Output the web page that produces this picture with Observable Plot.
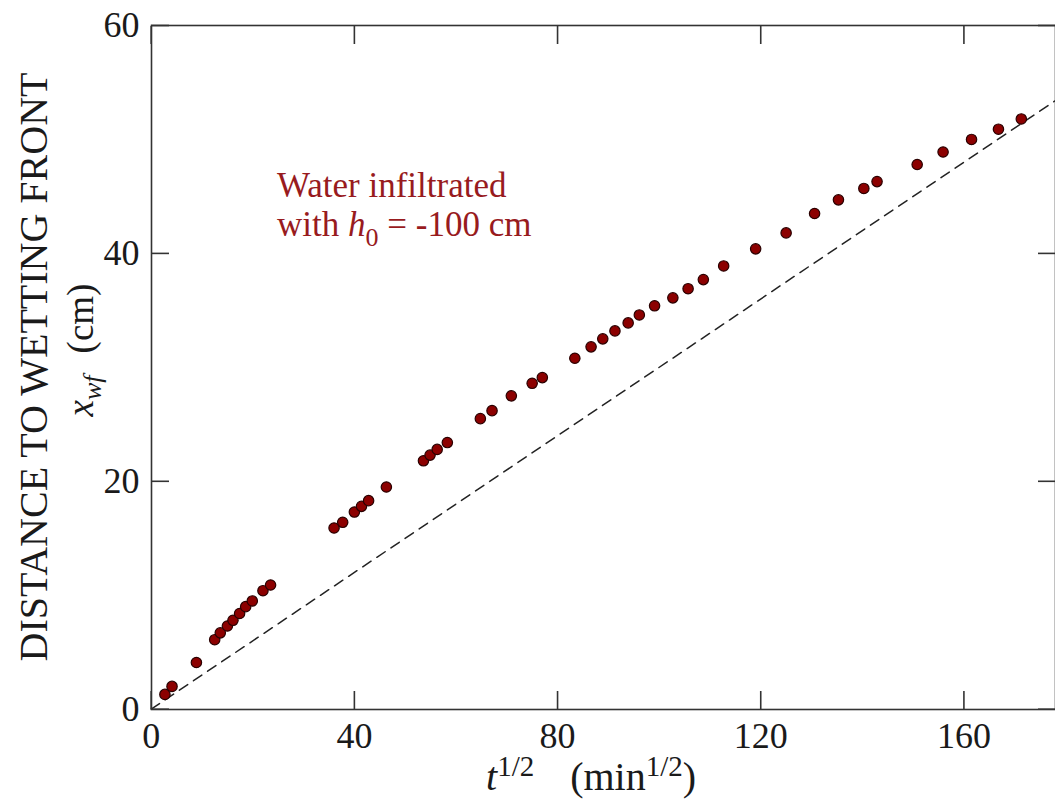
<!DOCTYPE html>
<html>
<head>
<meta charset="utf-8">
<script src="https://cdn.jsdelivr.net/npm/d3@7"></script>
<script src="https://cdn.jsdelivr.net/npm/@observablehq/plot@0.6"></script>
<style>
  html, body { margin: 0; padding: 0; background: #fff; overflow: hidden; }
  #chart svg { display: block; }
</style>
</head>
<body>
<div id="chart"></div>
<script>
// ---- data ----
const sqrtTime = [2.7, 4.1, 8.9, 12.5, 13.6, 15.0, 16.1, 17.4, 18.6, 19.9, 22.0, 23.5,
  36.0, 37.7, 40.0, 41.4, 42.8, 46.3, 53.6, 54.9, 56.3, 58.3,
  64.8, 67.1, 70.9, 75.0, 77.0, 83.4, 86.6, 88.9, 91.3, 93.9, 96.1, 99.1,
  102.7, 105.7, 108.7, 112.7, 119.0, 125.0, 130.6, 135.3, 140.3, 142.9,
  150.8, 155.9, 161.5, 166.8, 171.3];
const wettingFront = [1.3, 2.0, 4.1, 6.1, 6.7, 7.3, 7.8, 8.4, 9.0, 9.5, 10.4, 10.9,
  15.9, 16.4, 17.3, 17.8, 18.3, 19.5, 21.8, 22.3, 22.8, 23.4,
  25.5, 26.2, 27.5, 28.6, 29.1, 30.8, 31.8, 32.5, 33.2, 33.9, 34.6, 35.4,
  36.1, 36.9, 37.7, 38.9, 40.4, 41.8, 43.5, 44.7, 45.7, 46.3,
  47.8, 48.9, 50.0, 50.9, 51.8];
const refLineX = [0, 180];
const refLineY = [0, 54];
const xTicks = [0, 40, 80, 120, 160];
const yTicks = [0, 20, 40, 60];

const annotationLine1 = "Water infiltrated";
const yTitle1 = "DISTANCE TO WETTING FRONT";

// ---- build ----
const points = sqrtTime.map((x, i) => ({x, y: wettingFront[i]}));
const refLine = refLineX.map((x, i) => ({x, y: refLineY[i]}));
const serif = "'Liberation Serif', 'Times New Roman', serif";
const axisColor = "#333";

const plot = Plot.plot({
  width: 1055,
  height: 806,
  marginLeft: 151,
  marginRight: 0,
  marginTop: 25,
  marginBottom: 97,
  x: {domain: [0, 180], range: [150.7, 1065]},
  y: {domain: [0, 60], range: [708.7, 25]},
  style: {fontFamily: serif, fontSize: "36px", color: "#1a1a1a", background: "#fff"},
  marks: [
    Plot.line(refLine, {x: "x", y: "y", stroke: "#222", strokeWidth: 1.5, strokeDasharray: "10,7"}),
    Plot.dot(points, {x: "x", y: "y", r: 5.2, fill: "#8c0000", stroke: "#2a0000", strokeWidth: 1.2}),
    Plot.frame({stroke: axisColor, strokeWidth: 1.6}),
    Plot.axisX(xTicks, {anchor: "bottom", tickSize: -18, tickFormat: () => "", stroke: axisColor, strokeWidth: 1.6, label: null}),
    Plot.axisX(xTicks, {anchor: "top", tickSize: -18, tickFormat: () => "", stroke: axisColor, strokeWidth: 1.6, label: null}),
    Plot.axisY(yTicks, {anchor: "left", tickSize: -18, tickFormat: () => "", stroke: axisColor, strokeWidth: 1.6, label: null}),
    Plot.axisY(yTicks, {anchor: "right", tickSize: -18, tickFormat: () => "", stroke: axisColor, strokeWidth: 1.6, label: null}),
    Plot.axisX(xTicks, {anchor: "bottom", tickSize: 0, tickPadding: 13, fontSize: 36, label: null}),
    Plot.axisY(yTicks, {anchor: "left", tickSize: 0, tickPadding: 12, fontSize: 36, label: null})
  ]
});

document.getElementById("chart").appendChild(plot);

// ---- rich text (superscripts / subscripts / italics) ----
const svg = d3.select(plot);
const red = "#981b1e";

// annotation
const ann = svg.append("g").attr("font-family", serif).attr("font-size", 35).attr("fill", red)
  .attr("text-anchor", "start");
ann.append("text").attr("x", 277).attr("y", 197).text(annotationLine1);
const a2 = ann.append("text").attr("x", 277).attr("y", 236);
a2.append("tspan").text("with ");
a2.append("tspan").attr("font-style", "italic").text("h");
a2.append("tspan").attr("font-size", 26).attr("dy", 10).text("0");
a2.append("tspan").attr("dy", -10).text(" = -100 cm");

// x title
const xt = svg.append("text").attr("font-family", serif).attr("font-size", 40).attr("fill", "#1a1a1a")
  .attr("text-anchor", "start")
  .attr("x", 486).attr("y", 790);
xt.append("tspan").attr("font-style", "italic").text("t");
xt.append("tspan").attr("font-size", 29).attr("dy", -14).text("1/2");
xt.append("tspan").attr("dy", 14).attr("dx", 36).text("(min");
xt.append("tspan").attr("font-size", 29).attr("dy", -14).text("1/2");
xt.append("tspan").attr("dy", 14).text(")");

// y title line 1
svg.append("text").attr("font-family", serif).attr("font-size", 40).attr("fill", "#1a1a1a")
  .attr("text-anchor", "middle")
  .attr("transform", "translate(47,367) rotate(-90)")
  .text(yTitle1);

// y title line 2
const yt = svg.append("text").attr("font-family", serif).attr("font-size", 37).attr("fill", "#1a1a1a")
  .attr("text-anchor", "middle")
  .attr("transform", "translate(93,350) rotate(-90)");
yt.append("tspan").attr("font-style", "italic").text("x");
yt.append("tspan").attr("font-style", "italic").attr("font-size", 26).attr("dy", 8).text("wf");
yt.append("tspan").attr("dy", -8).attr("dx", 22).text("(cm)");
</script>
</body>
</html>
